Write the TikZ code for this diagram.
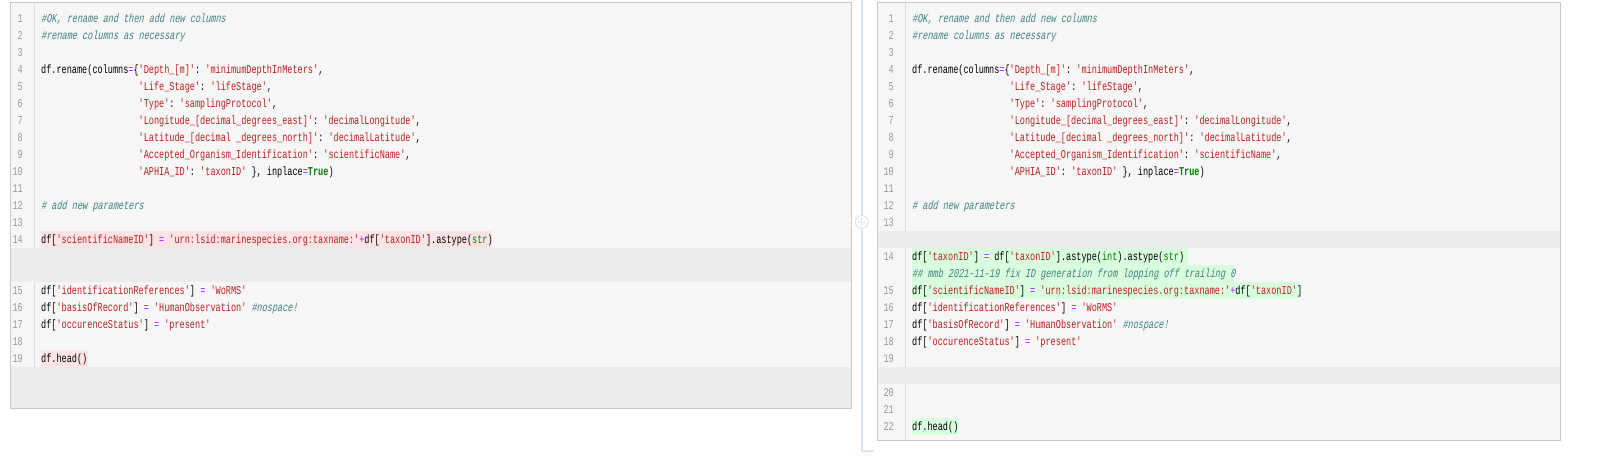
\documentclass[tikz,border=0pt]{standalone}
\usepackage{fontspec}
\setmonofont[FakeStretch=0.7125]{Liberation Mono}
\newfontfamily\codeit[FakeStretch=0.7125,FakeSlant=0.2]{Liberation Mono}
\definecolor{panelbg}{HTML}{F6F6F6}
\definecolor{bandbg}{HTML}{ECECEC}
\definecolor{panelborder}{HTML}{C9C9C9}
\definecolor{gutter}{HTML}{DDDDDD}
\definecolor{lnum}{HTML}{999999}
\definecolor{strc}{HTML}{BA2121}
\definecolor{cmtc}{HTML}{408080}
\definecolor{opc}{HTML}{AA22FF}
\definecolor{kwc}{HTML}{008000}
\definecolor{delbg}{HTML}{FCE4E6}
\definecolor{addbg}{HTML}{D9FCDE}
\definecolor{conn}{HTML}{D6E6F5}
\newcommand{\St}[1]{\textcolor{strc}{#1}}
\newcommand{\Cm}[1]{{\codeit\textcolor{cmtc}{#1}}}
\newcommand{\Op}[1]{\textcolor{opc}{#1}}
\newcommand{\Kw}[1]{\textcolor{kwc}{#1}}
\newcommand{\Kb}[1]{\textcolor{kwc}{\bfseries #1}}
\tikzset{
  code/.style={anchor=base west,inner sep=0pt,font=\ttfamily\fontsize{12}{14}\selectfont,text=black},
  lno/.style={anchor=base east,inner sep=0pt,font=\ttfamily\fontsize{12}{14}\selectfont,text=lnum},
  panel/.style={fill=panelbg,draw=panelborder,line width=1pt},
}
\begin{document}
\begin{tikzpicture}[x=1pt,y=-1pt]
\useasboundingbox (0,0) rectangle (1603,457);
% connector
\draw[conn,line width=2pt] (861.7,0) -- (861.7,451) -- (874,451);
\node[circle,draw=conn,fill=white,line width=1pt,minimum size=13pt,inner sep=0pt] (plus) at (861.7,222) {};
\draw[conn,line width=1pt] ([xshift=-4pt]plus.center) -- ([xshift=4pt]plus.center) ([yshift=-4pt]plus.center) -- ([yshift=4pt]plus.center);
% panels
\fill[panelbg] (10,3) rectangle (851,408);
\fill[bandbg] (10,248) rectangle (851,282);
\fill[bandbg] (10,367) rectangle (851,408);
\draw[gutter] (34,3) -- (34,248) (34,282) -- (34,367);
\draw[panelborder,line width=1pt] (10,3) rectangle (851,408);
\fill[panelbg] (877,3) rectangle (1560,440);
\fill[bandbg] (877,231) rectangle (1560,248);
\fill[bandbg] (877,367) rectangle (1560,384);
\draw[gutter] (905,3) -- (905,231) (905,248) -- (905,367) (905,384) -- (905,440);
\draw[panelborder,line width=1pt] (877,3) rectangle (1560,440);
% highlights
\fill[delbg] (41,231) rectangle (492,248);
\fill[delbg] (41,350.2) rectangle (88,367.2);
\fill[addbg] (912,248.2) rectangle (1188,265.2);
\fill[addbg] (912,265.2) rectangle (1234,282.2);
\fill[addbg] (912,282.2) rectangle (1300,299.2);
\fill[addbg] (912,418.2) rectangle (958,435.2);
% line numbers
\foreach \i in {1,...,14} \node[lno] (ln\i) at (23,{22.5+17*(\i-1)}) {\i};
\foreach \i in {15,...,19} \node[lno] (ln\i) at (23,{294.7+17*(\i-15)}) {\i};
\foreach \i in {1,...,13} \node[lno] (rn\i) at (894,{22.5+17*(\i-1)}) {\i};
\node[lno] (rn14) at (894,260.7) {14};
\foreach \i in {15,...,19} \node[lno] (rn\i) at (894,{294.7+17*(\i-15)}) {\i};
\foreach \i in {20,21,22} \node[lno] (rn\i) at (894,{396.7+17*(\i-20)}) {\i};
% common code for both panels
\foreach \xo/\pfx in {41/L,912/R}{
  \pgfmathsetmacro{\xc}{\xo+19*5.13}
  \node[code] (\pfx a) at (\xo,22.5) {\Cm{\#OK, rename and then add new columns}};
  \node[code] (\pfx b) at (\xo,39.5) {\Cm{\#rename columns as necessary}};
  \node[code] (\pfx c) at (\xo,73.5) {df.rename(columns\Op{=}\{\St{'Depth\_[m]'}: \St{'minimumDepthInMeters'},};
  \node[code] (\pfx d) at (\xc,90.5) {\St{'Life\_Stage'}: \St{'lifeStage'},};
  \node[code] (\pfx e) at (\xc,107.5) {\St{'Type'}: \St{'samplingProtocol'},};
  \node[code] (\pfx f) at (\xc,124.5) {\St{'Longitude\_[decimal\_degrees\_east]'}: \St{'decimalLongitude'},};
  \node[code] (\pfx g) at (\xc,141.5) {\St{'Latitude\_[decimal \_degrees\_north]'}: \St{'decimalLatitude'},};
  \node[code] (\pfx h) at (\xc,158.5) {\St{'Accepted\_Organism\_Identification'}: \St{'scientificName'},};
  \node[code] (\pfx i) at (\xc,175.5) {\St{'APHIA\_ID'}: \St{'taxonID'} \}, inplace\Op{=}\Kb{True})};
  \node[code] (\pfx j) at (\xo,209.5) {\Cm{\# add new parameters}};
}
% left specific
\node[code] (l14) at (41,243.5) {df[\St{'scientificNameID'}] \Op{=} \St{'urn:lsid:marinespecies.org:taxname:'}\Op{+}df[\St{'taxonID'}].astype(\Kw{str})};
\node[code] (l15) at (41,294.7) {df[\St{'identificationReferences'}] \Op{=} \St{'WoRMS'}};
\node[code] (l16) at (41,311.7) {df[\St{'basisOfRecord'}] \Op{=} \St{'HumanObservation'} \Cm{\#nospace!}};
\node[code] (l17) at (41,328.7) {df[\St{'occurenceStatus'}] \Op{=} \St{'present'}};
\node[code] (l19) at (41,362.7) {df.head()};
% right specific
\node[code] (r14) at (912,260.7) {df[\St{'taxonID'}] \Op{=} df[\St{'taxonID'}].astype(\Kw{int}).astype(\Kw{str})};
\node[code] (r14b) at (912,277.7) {\Cm{\#\# mmb 2021-11-19 fix ID generation from lopping off trailing 0}};
\node[code] (r15) at (912,294.7) {df[\St{'scientificNameID'}] \Op{=} \St{'urn:lsid:marinespecies.org:taxname:'}\Op{+}df[\St{'taxonID'}]};
\node[code] (r16) at (912,311.7) {df[\St{'identificationReferences'}] \Op{=} \St{'WoRMS'}};
\node[code] (r17) at (912,328.7) {df[\St{'basisOfRecord'}] \Op{=} \St{'HumanObservation'} \Cm{\#nospace!}};
\node[code] (r18) at (912,345.7) {df[\St{'occurenceStatus'}] \Op{=} \St{'present'}};
\node[code] (r22) at (912,430.7) {df.head()};
\end{tikzpicture}
\end{document}
